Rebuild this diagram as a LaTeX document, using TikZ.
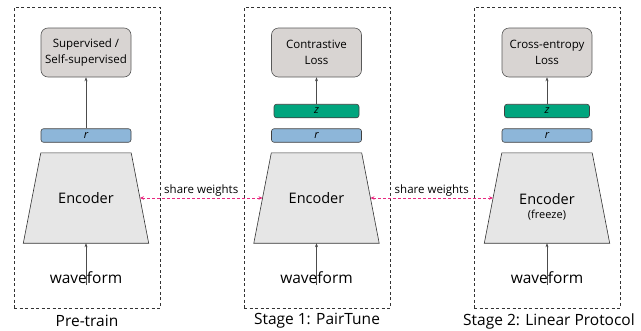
\documentclass[tikz,border=0pt]{standalone}
\usepackage{fontspec}
\setmainfont{Open Sans}
\usepackage{tikz}
\usetikzlibrary{arrows.meta}
\usetikzlibrary{backgrounds}
\usetikzlibrary{positioning}

\definecolor{lossgray}{HTML}{D8D4D2}
\definecolor{rblue}{HTML}{8DB6D9}
\definecolor{zgreen}{HTML}{00A57E}
\definecolor{encgray}{HTML}{E6E6E6}
\definecolor{sharepink}{HTML}{E8297F}

\tikzset{
  panel/.style={draw=black!80, dash pattern=on 3pt off 2.5pt, line width=0.6pt,
    minimum width=146pt, minimum height=301pt, inner sep=0pt},
  lossbox/.style={draw=black!65, fill=lossgray, rounded corners=7pt, line width=0.6pt,
    minimum width=90pt, minimum height=49pt, inner sep=0pt, align=center,
    font=\fontsize{11.5}{16}\selectfont},
  rbar/.style={draw=black!75, fill=rblue, rounded corners=2.5pt, line width=0.6pt,
    minimum width=90pt, minimum height=13.5pt, inner sep=0pt,
    font=\fontsize{11}{11}\selectfont\itshape},
  zbar/.style={rbar, fill=zgreen, minimum width=85pt},
  encoder/.style={minimum width=125pt, minimum height=90pt, inner sep=0pt,
    font=\fontsize{14.5}{17}\selectfont},
  encshape/.style={draw=black!80, fill=encgray, line width=0.6pt},
  big/.style={font=\fontsize{15.5}{18}\selectfont, inner sep=0pt},
  flow/.style={-{Stealth[length=4pt,width=3pt]}, draw=black!70, line width=0.5pt},
  share/.style={{Stealth[length=4pt,width=3.5pt]}-{Stealth[length=4pt,width=3.5pt]},
    draw=sharepink, dash pattern=on 3pt off 2pt, line width=0.6pt},
  swlabel/.style={above, inner sep=1.5pt, font=\fontsize{11.5}{13}\selectfont},
}

\begin{document}
\begin{tikzpicture}[x=1pt, y=-1pt]
\useasboundingbox (0,0) rectangle (641,330);

% Pre-train
\node[panel] (box1) at (87,157.5) {};
\node[lossbox] (loss1) at (86,52.5) {Supervised /\\Self-supervised};
\node[rbar] (rvec1) at (86,135.5) {r};
\node[encoder] (enc1) at (86,198) {Encoder};
\node[big] (wave1) at (86,278) {waveform};
\node[big] (stage1) at (87,321) {Pre-train};
\draw[flow] (rvec1) -- (loss1);
\draw[flow] (wave1.north) ++(0,-13pt) coordinate (w1) (w1) -- (enc1.south);

% Stage 1
\node[panel] (box2) at (317,157.5) {};
\node[lossbox] (loss2) at (316.5,52.5) {Contrastive\\Loss};
\node[zbar] (zvec2) at (316.5,111) {z};
\node[rbar] (rvec2) at (316.5,135.5) {r};
\node[encoder] (enc2) at (316.5,198) {Encoder};
\node[big] (wave2) at (316.5,278) {waveform};
\node[big] (stage2) at (317,321) {Stage 1: PairTune};
\draw[flow] (zvec2) -- (loss2);
\draw[flow] (wave2.north) ++(0,-13pt) coordinate (w2) (w2) -- (enc2.south);

% Stage 2
\node[panel] (box3) at (547,157.5) {};
\node[lossbox] (loss3) at (547,52.5) {Cross-entropy\\Loss};
\node[zbar] (zvec3) at (547,111) {z};
\node[rbar] (rvec3) at (547,135.5) {r};
\node[encoder] (enc3) at (547,198) {};
\node[encoder, minimum size=0pt] (enctxt3) at (547,199) {Encoder};
\node[font=\fontsize{11}{12}\selectfont, inner sep=0pt] (frz3) at (547,215) {(freeze)};
\node[big] (wave3) at (547,278) {waveform};
\node[big] (stage3) at (549,321) {Stage 2: Linear Protocol};
\draw[flow] (zvec3) -- (loss3);
\draw[flow] (wave3.north) ++(0,-13pt) coordinate (w3) (w3) -- (enc3.south);

% encoder outlines
\begin{scope}[on background layer]
\foreach \e in {enc1,enc2,enc3}
  \draw[encshape] (\e.south west) -- (\e.south east) -- ([xshift=-17.5pt]\e.north east)
    -- ([xshift=17.5pt]\e.north west) -- cycle;
\end{scope}

% shared weights
\draw[share] ([xshift=-8.75pt]enc1.east) -- node[swlabel] (sw1) {share weights} ([xshift=8.75pt]enc2.west);
\draw[share] ([xshift=-8.75pt]enc2.east) -- node[swlabel] (sw2) {share weights} ([xshift=8.75pt]enc3.west);
\end{tikzpicture}
\end{document}
